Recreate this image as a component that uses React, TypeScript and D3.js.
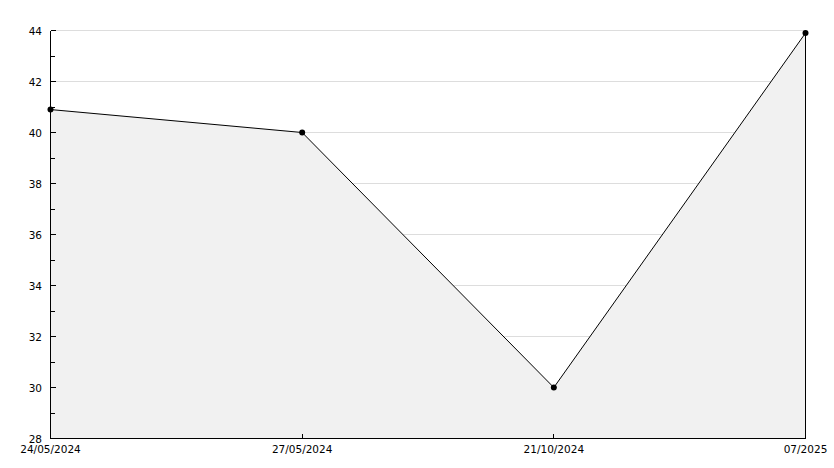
import React from "react";
import * as d3 from "d3";

const categories = ["24/05/2024", "27/05/2024", "21/10/2024", "07/2025"];
const values = [40.9, 40.0, 30.0, 43.9];
const yMajorTicks = [28, 30, 32, 34, 36, 38, 40, 42, 44];
const yMinorTicks = [29, 31, 33, 35, 37, 39, 41, 43];

const W = 834;
const H = 468;
const left = 50.5;
const right = 805.5;
const top = 30.5;
const bottom = 438.5;

export default function App() {
  const x = d3.scalePoint<string>().domain(categories).range([left, right]);
  const y = d3.scaleLinear().domain([28, 44]).range([bottom, top]);
  const data = categories.map((c, i) => ({ c, v: values[i] }));
  const last = data[data.length - 1];

  const area = d3
    .area<{ c: string; v: number }>()
    .x((d) => x(d.c) as number)
    .y0(bottom)
    .y1((d) => y(d.v));
  const line = d3
    .line<{ c: string; v: number }>()
    .x((d) => x(d.c) as number)
    .y((d) => y(d.v));

  const font = "'DejaVu Sans', sans-serif";

  return (
    <svg
      width={W}
      height={H}
      style={{ position: "absolute", left: 0, top: 0, background: "#fff" }}
    >
      <rect x={0} y={0} width={W} height={H} fill="#fff" />
      {yMajorTicks.map((t) => (
        <line
          key={"g" + t}
          x1={left}
          x2={right}
          y1={y(t)}
          y2={y(t)}
          stroke="#dddddd"
          strokeWidth={1}
          shapeRendering="crispEdges"
        />
      ))}
      <path d={area(data) || ""} fill="#f1f1f1" stroke="none" />
      <line
        x1={x(last.c)}
        x2={x(last.c)}
        y1={y(last.v)}
        y2={bottom}
        stroke="#000"
        shapeRendering="crispEdges"
      />
      <path d={line(data) || ""} fill="none" stroke="#000" strokeWidth={1} />
      {/* axes */}
      <line x1={left} x2={left} y1={top} y2={bottom} stroke="#000" shapeRendering="crispEdges" />
      <line x1={left} x2={right} y1={bottom} y2={bottom} stroke="#000" shapeRendering="crispEdges" />
      {yMajorTicks.map((t) => (
        <g key={"t" + t}>
          <line x1={left} x2={left + 5} y1={y(t)} y2={y(t)} stroke="#000" shapeRendering="crispEdges" />
          <text
            x={42}
            y={y(t)}
            textAnchor="end"
            dominantBaseline="central"
            fontFamily={font}
            fontSize={10.5}
            fill="#000"
          >
            {t}
          </text>
        </g>
      ))}
      {yMinorTicks.map((t) => (
        <line key={"m" + t} x1={left} x2={left + 4} y1={y(t)} y2={y(t)} stroke="#000" shapeRendering="crispEdges" />
      ))}
      {categories.map((c) => (
        <g key={"x" + c}>
          <line x1={x(c)} x2={x(c)} y1={bottom} y2={bottom - 5} stroke="#000" shapeRendering="crispEdges" />
          <text
            x={x(c)}
            y={449}
            textAnchor="middle"
            dominantBaseline="central"
            fontFamily={font}
            fontSize={10.5}
            fill="#000"
          >
            {c}
          </text>
        </g>
      ))}
      {data.map((d) => (
        <circle key={"p" + d.c} cx={x(d.c)} cy={y(d.v)} r={3} fill="#000" />
      ))}
    </svg>
  );
}
